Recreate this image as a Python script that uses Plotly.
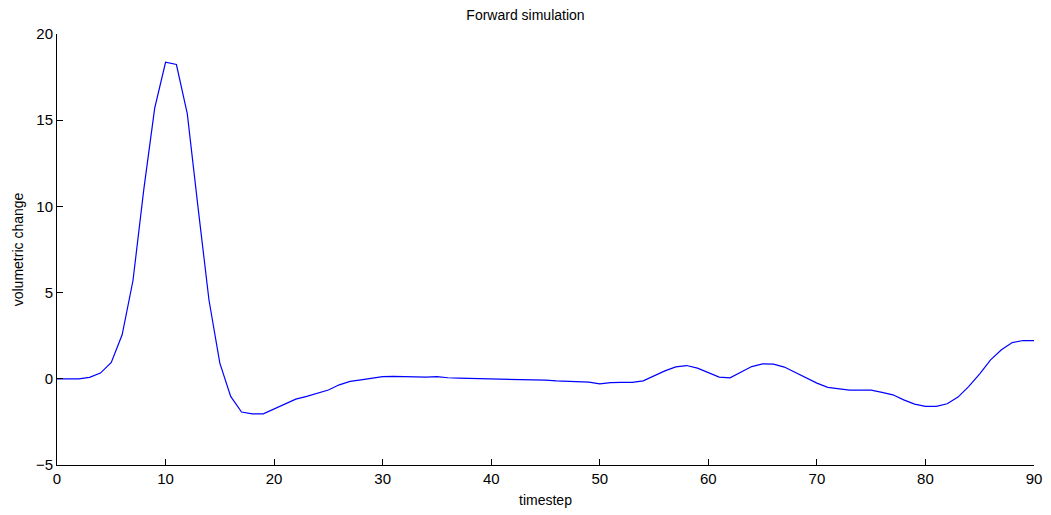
import plotly.graph_objects as go

timestep = list(range(0, 91))
volumetric_change = [
    0.0, 0.0, 0.0, 0.08, 0.33, 0.95, 2.55, 5.7, 11.0, 15.7,
    18.36, 18.23, 15.38, 9.9, 4.57, 0.91, -1.02, -1.93, -2.03, -2.03,
    -1.75, -1.45, -1.18, -1.02, -0.85, -0.65, -0.35, -0.15, -0.06, 0.04,
    0.13, 0.14, 0.13, 0.08, 0.1, 0.13, 0.06, 0.04, 0.03, 0.02,
    0.0, -0.01, -0.03, -0.06, -0.07, -0.08, -0.12, -0.13, -0.14, -0.19,
    -0.29, -0.22, -0.21, -0.21, -0.12, 0.17, 0.46, 0.69, 0.77, 0.62,
    0.37, 0.1, 0.06, 0.37, 0.71, 0.87, 0.85, 0.68, 0.37, 0.06,
    -0.25, -0.5, -0.6, -0.66, -0.66, -0.66, -0.79, -0.93, -1.22, -1.47,
    -1.6, -1.6, -1.45, -1.06, -0.44, 0.29, 1.1, 1.68, 2.1, 2.22,
    2.22,
]
x_ticks = [0, 10, 20, 30, 40, 50, 60, 70, 80, 90]
y_ticks = [-5, 0, 5, 10, 15, 20]

fig = go.Figure()
fig.add_trace(go.Scatter(
    x=timestep, y=volumetric_change, mode="lines",
    line=dict(color="#0000ff", width=1.2), showlegend=False,
))

font_family = "Liberation Sans, Arial, sans-serif"
fig.update_layout(
    width=1051, height=515,
    margin=dict(l=57, r=9, t=34, b=49),
    paper_bgcolor="white", plot_bgcolor="white",
    font=dict(family=font_family, size=14, color="#000000"),
    title=dict(text="Forward simulation", x=0.5, xanchor="center",
               y=1 - 15 / 515, yanchor="middle", font=dict(size=14)),
    xaxis=dict(
        range=[0, 90], tickvals=x_ticks, ticks="inside", ticklen=6,
        tickcolor="black", showline=True, linecolor="black", linewidth=1,
        showgrid=False, zeroline=False, mirror=False,
        title=dict(text="timestep", standoff=9, font=dict(size=14)),
        tickfont=dict(size=15),
    ),
    yaxis=dict(
        range=[-5, 20], tickvals=y_ticks, ticks="inside", ticklen=6,
        tickcolor="black", showline=True, linecolor="black", linewidth=1,
        showgrid=False, zeroline=False, mirror=False,
        title=dict(text="volumetric change", standoff=8, font=dict(size=14)),
        tickfont=dict(size=15),
    ),
)

fig.write_html("out.html")
